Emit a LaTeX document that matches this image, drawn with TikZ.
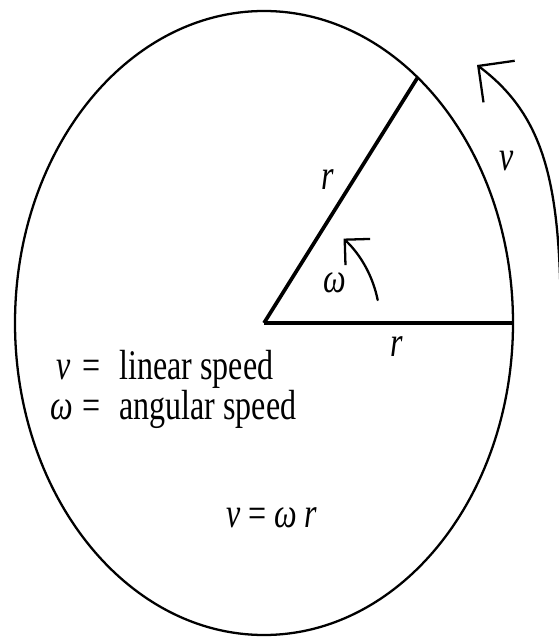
\documentclass[tikz,border=0pt]{standalone}
\usepackage{fontspec}
\newfontfamily\figfont{Liberation Serif}[FakeStretch=0.76]
\usepackage{tikz}
\usetikzlibrary{arrows.meta, positioning, calc}

\begin{document}
\begin{tikzpicture}[
    x=0.02cm, y=0.02cm,
    rim/.style={draw, line width=1.3pt},
    spoke/.style={draw, line width=1.8pt},
    turn/.style={line width=1.3pt, line cap=round},
    lbl/.style={inner sep=0pt, font=\figfont\fontsize{24}{28}\selectfont},
    key/.style={lbl, anchor=base west}
]
\useasboundingbox (0,0) rectangle (559,637);
\clip (0,0) rectangle (559,637);

% Wheel
\coordinate (O) at (264,314);
\draw[rim] (O) ellipse [x radius=249, y radius=312];
\coordinate (A) at (513,314);
\coordinate (B) at ($(O)+(51.9:249 and 312)$);

% Radii
\draw[spoke] (O) -- (A);
\draw[spoke, line width=2.1pt] (O) -- (B);
\node[lbl] (rslant) at (328,457) {\textit{r}};
\node[lbl] (rflat) at (397,290) {\textit{r}};

% Angular speed
\draw[turn, -{Straight Barb[length=0.36cm, width=0.72cm]}] ($(O)+(11.4:116)$) arc[start angle=11.4, end angle=46.7, radius=116];
\node[lbl] (om) at (335,354) {\textit{ω}};

% Linear speed
\coordinate (vs) at (561,300);
\coordinate (vt) at (477,572);
\draw[turn, -{Straight Barb[length=0.52cm, width=1.04cm]}] (vs) .. controls (561,445) and (549,518) .. (vt);
\node[lbl] (vlab) at (507,476) {\textit{v}};

% Legend
\node[key] (vsym) at (56,257) {\textit{v}};
\node[key] (veq) at (82,257) {=};
\node[key] (vtxt) at (119,257) {linear speed};
\node[key] (wsym) at (50,217) {\textit{ω}};
\node[key] (weq) at (82,217) {=};
\node[key] (wtxt) at (119,217) {angular speed};
\node[key] (law) at (226,110) {\textit{v} = \textit{ω\,r}};

\end{tikzpicture}
\end{document}
